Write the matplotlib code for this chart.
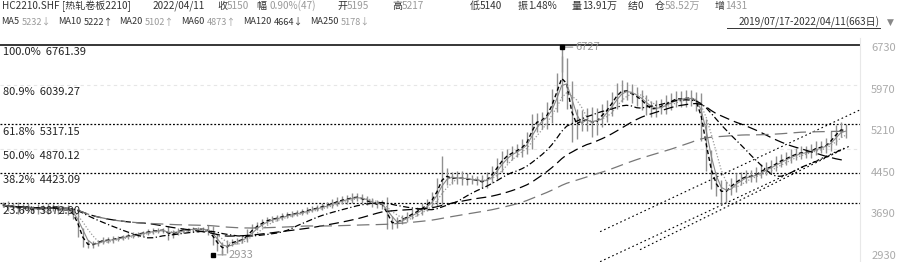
import numpy as np
import pandas as pd
import matplotlib.pyplot as plt

plt.rcParams['font.family'] = ['Noto Sans CJK SC', 'DejaVu Sans']

# closes, roughly every 4 trading days (2019/07/17 - 2022/04/11)
closes = [
    3848, 3793, 3830, 3757, 3812, 3775, 3739, 3793, 3757, 3812, 3775, 3739, 3775, 3720, 3666,
    3356, 3155, 3100, 3137, 3173, 3210, 3191, 3228, 3246, 3264, 3283, 3301, 3319, 3337, 3356,
    3374, 3374, 3392, 3283, 3337, 3374, 3392, 3392, 3410, 3392, 3410, 3356, 3210, 3100, 3027,
    3137, 3173, 3191, 3228, 3337, 3429, 3483, 3538, 3574, 3593, 3611, 3648, 3666, 3684, 3702,
    3720, 3757, 3775, 3793, 3830, 3848, 3884, 3921, 3939, 3957, 3994, 3976, 3939, 3903, 3866,
    3848, 3866, 3538, 3501, 3556, 3593, 3648, 3702, 3739, 3812, 3884, 3976, 4195, 4395, 4340,
    4322, 4358, 4304, 4322, 4304, 4286, 4249, 4340, 4450, 4578, 4705, 4760, 4815, 4851, 4924,
    5034, 5326, 5380, 5398, 5544, 5763, 6037, 6274, 5854, 5252, 5398, 5362, 5435, 5289, 5435,
    5508, 5617, 5763, 5891, 5946, 5909, 5854, 5800, 5727, 5617, 5581, 5636, 5654, 5709, 5763,
    5800, 5763, 5818, 5782, 5690, 5216, 4669, 4304, 4158, 4030, 4158, 4213, 4304, 4340, 4377,
    4358, 4431, 4486, 4523, 4559, 4632, 4669, 4705, 4760, 4778, 4815, 4796, 4851, 4906, 4888,
    4961, 5070, 5179, 5252, 5150,
]
# rough bar heights (high-low spread beyond the body), same sampling
spreads = [
    100, 120, 100, 140, 100, 120, 100, 120, 100, 140, 100, 120, 100, 120, 150,
    200, 150, 100, 80, 80, 80, 80, 80, 80, 80, 80, 80, 80, 80, 80,
    80, 80, 80, 150, 100, 80, 80, 80, 80, 80, 80, 120, 200, 200, 150,
    120, 90, 90, 90, 120, 120, 100, 100, 90, 90, 90, 90, 90, 90, 90,
    90, 100, 100, 100, 100, 100, 120, 120, 120, 150, 150, 120, 120, 120, 120,
    120, 150, 250, 200, 150, 120, 120, 120, 120, 150, 150, 200, 300, 700, 250,
    200, 200, 200, 200, 150, 150, 200, 200, 200, 250, 250, 200, 200, 200, 250,
    300, 350, 300, 300, 350, 400, 450, 600, 500, 500, 400, 350, 350, 400, 350,
    350, 300, 300, 350, 350, 300, 300, 300, 300, 250, 250, 250, 250, 300, 250,
    250, 250, 250, 250, 250, 400, 400, 350, 300, 300, 250, 250, 250, 200, 200,
    200, 200, 200, 200, 200, 200, 200, 200, 200, 200, 200, 200, 200, 200, 200,
    200, 250, 250, 200, 150,
]
peak_high = 6727
trough_low = 2933

ma_names = ['MA5', 'MA10', 'MA20', 'MA60', 'MA120', 'MA250']
ma_windows = [2, 3, 5, 15, 30, 62]  # in sampled points (~4 days each)
ma_last = ['5232↓', '5222↑', '5102↑', '4873↑', '4664↓', '5178↓']

fib_pcts = ['100.0%', '80.9%', '61.8%', '50.0%', '38.2%', '23.6%']
fib_vals = [6761.39, 6039.27, 5317.15, 4870.12, 4423.09, 3872.90]

yticks = [6730, 5970, 5210, 4450, 3690, 2930]

# trend channel lines: (index start, price start, index end, price end)
channels = [
    (119.7, 3356, 171.8, 5581),
    (127.7, 3027, 169.8, 4924),
    (119.7, 2808, 167.8, 4851),
]

fig = plt.figure(figsize=(9, 2.62), dpi=100)
ax = fig.add_axes([0, 0, 860 / 900, 224 / 262])

x = np.arange(len(closes))
c = pd.Series(closes, dtype=float)
sp = pd.Series(spreads, dtype=float)
prev = c.shift(1).fillna(c.iloc[0])
ax.vlines(x, np.minimum(prev, c) - sp / 2, np.maximum(prev, c) + sp / 2,
          color='#909090', lw=1.0, zorder=3)
ipk = int(c.idxmax())
ilo = int(c.idxmin())
ax.vlines([ipk], c[ipk], peak_high, color='#909090', lw=1.0, zorder=3)
ax.vlines([ilo], trough_low, c[ilo], color='#909090', lw=1.0, zorder=3)

ma_styles = [
    dict(color='black', ls=(0, (3, 2)), lw=1.0),
    dict(color='#888888', ls='-', lw=0.8),
    dict(color='#999999', ls=(0, (1, 1.5)), lw=0.9),
    dict(color='black', ls=(0, (5, 2, 1, 2)), lw=0.9),
    dict(color='black', ls=(0, (8, 4)), lw=0.9),
    dict(color='#777777', ls=(0, (10, 5)), lw=0.9),
]
for w, st in zip(ma_windows, ma_styles):
    ax.plot(x, c.rolling(w, min_periods=1).mean(), zorder=4, **st)

# fibonacci levels
fib_styles = [
    dict(color='black', ls='-', lw=1.1),
    dict(color='#e6e6e6', ls=(0, (3, 3)), lw=0.8),
    dict(color='black', ls=(0, (1.5, 1.5)), lw=0.9),
    dict(color='#e6e6e6', ls=(0, (3, 3)), lw=0.8),
    dict(color='black', ls=(0, (1.5, 1.5)), lw=0.9),
    dict(color='black', ls=(0, (1.5, 1.5)), lw=0.9),
]
for p, v, st in zip(fib_pcts, fib_vals, fib_styles):
    ax.axhline(v, zorder=2, **st)
    ax.text(0.004, v - 40, f'{p}  {v:.2f}', transform=ax.get_yaxis_transform(),
            ha='left', va='top', fontsize=8, color='#222222', zorder=5)

for x0, y0, x1, y1 in channels:
    ax.plot([x0, x1], [y0, y1], color='black', ls=(0, (1.5, 2.5)), lw=0.8, zorder=2)

# extreme markers
ax.plot([ipk], [peak_high], 's', color='black', ms=3.5, zorder=6)
ax.annotate('6727', (ipk, peak_high), xytext=(10, 0), textcoords='offset points',
            va='center', ha='left', fontsize=8, color='#999999',
            arrowprops=dict(arrowstyle='-', color='#999999', lw=0.8, shrinkA=0, shrinkB=2))
ax.plot([ilo - 2], [trough_low], 's', color='black', ms=3.5, zorder=6)
ax.annotate('2933', (ilo - 1.5, trough_low), xytext=(10, 0), textcoords='offset points',
            va='center', ha='left', fontsize=8, color='#999999',
            arrowprops=dict(arrowstyle='-', color='#999999', lw=0.8, shrinkA=0, shrinkB=2))

ax.set_xlim(-0.6, 171.8)
ax.set_ylim(2802, 6894)
for s in ['top', 'left', 'bottom']:
    ax.spines[s].set_visible(False)
ax.spines['right'].set_color('#e8e8e8')
ax.set_xticks([])
ax.yaxis.tick_right()
ax.set_yticks(yticks)
ax.tick_params(axis='y', length=0, pad=8, labelsize=8, labelcolor='#aaaaaa')

# header rows
dark = '#333333'
light = '#9a9a9a'
fig.canvas.draw()
r = fig.canvas.get_renderer()


def put(xpix, ypix, parts, fs, gap=0.0):
    for txt, col in parts:
        t = fig.text(xpix / 900, 1 - ypix / 262, txt, fontsize=fs, color=col,
                     ha='left', va='center')
        xpix += t.get_window_extent(r).width + gap
    return xpix


row1 = [
    (2, [('HC2210.SHF', dark)]),
    (62, [('[热轧卷板2210]', dark)]),
    (153, [('2022/04/11', dark)]),
    (217, [('收', dark), ('5150', light)]),
    (257, [('幅 ', dark), ('0.90%(47)', light)]),
    (337, [('开', dark), ('5195', light)]),
    (392, [('高', dark), ('5217', light)]),
    (470, [('低', dark), ('5140', dark)]),
    (518, [('振', dark), ('1.48%', dark)]),
    (572, [('量', dark), ('13.91万', dark)]),
    (628, [('结', dark), ('0', dark)]),
    (655, [('仓', dark), ('58.52万', light)]),
    (715, [('增', dark), ('1431', light)]),
]
for xp, parts in row1:
    put(xp, 6, parts, 7.2)

ma_cols = [light, dark, light, light, dark, light]
xp = 1
for n, v, col in zip(ma_names, ma_last, ma_cols):
    xp = put(xp, 22, [(n, dark), (v, col)], 6.6, gap=2.5) + 4

fig.text(880 / 900, 1 - 22 / 262, '2019/07/17-2022/04/11(663日)', fontsize=7.2,
         color=dark, ha='right', va='center')
fig.add_artist(plt.Line2D([727 / 900, 880 / 900], [1 - 28 / 262] * 2, color=dark, lw=0.7))
fig.text(890 / 900, 1 - 22 / 262, '▼', fontsize=6.5, color='#888888', ha='center',
         va='center', family=['DejaVu Sans'])

fig.savefig('out.png', dpi=100)
